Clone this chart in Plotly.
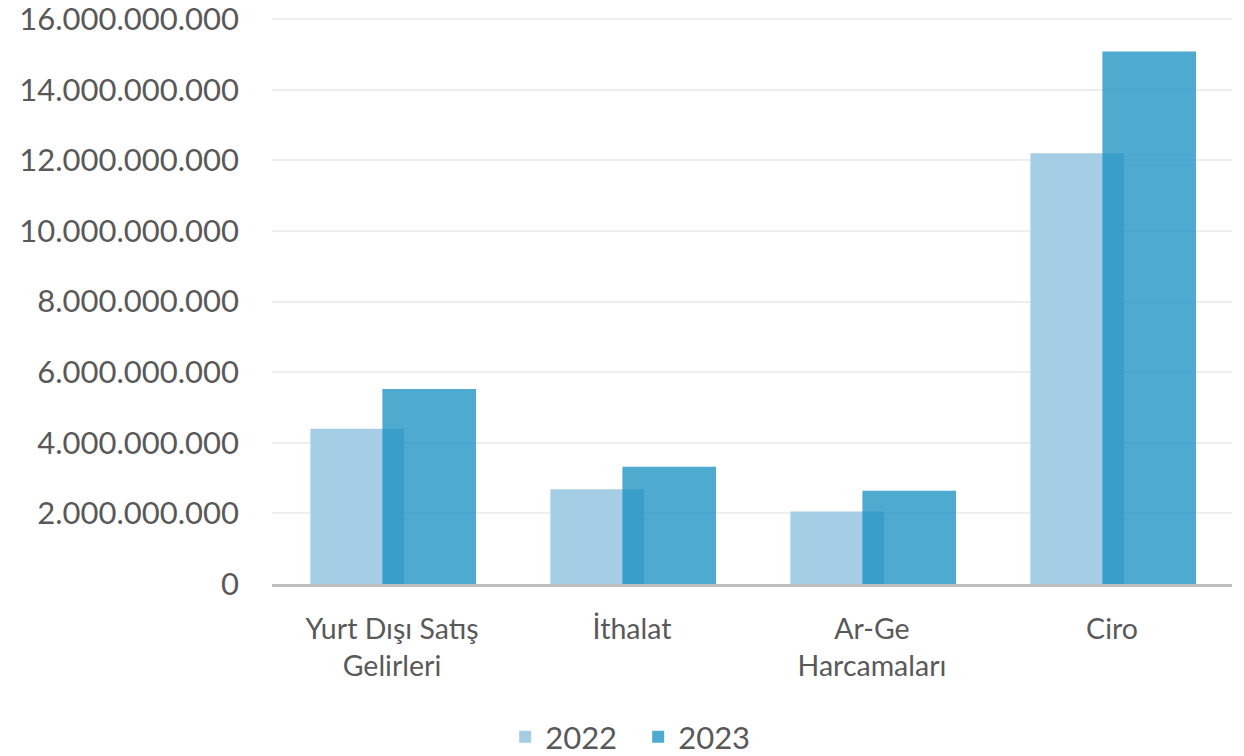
import plotly.graph_objects as go

categories = ["Yurt Dışı Satış<br>Gelirleri", "İthalat", "Ar-Ge<br>Harcamaları", "Ciro"]
values_2022 = [4.40e9, 2.68e9, 2.05e9, 12.2e9]
values_2023 = [5.52e9, 3.32e9, 2.64e9, 15.08e9]
tick_vals = [0, 2e9, 4e9, 6e9, 8e9, 10e9, 12e9, 14e9, 16e9]
tick_text = ["0", "2.000.000.000", "4.000.000.000", "6.000.000.000", "8.000.000.000",
             "10.000.000.000", "12.000.000.000", "14.000.000.000", "16.000.000.000"]

_TEXT = "#595959"
_FONT = "Lato"

fig = go.Figure()
fig.add_trace(go.Bar(
    x=categories, y=values_2022, name="2022",
    marker=dict(color="rgb(166,205,230)", line=dict(width=0)),
    width=0.39, offset=-0.34,
))
fig.add_trace(go.Bar(
    x=categories, y=values_2023, name="2023",
    marker=dict(color="rgba(20,142,191,0.75)", line=dict(width=0)),
    width=0.39, offset=-0.04,
))

fig.update_layout(
    barmode="overlay",
    width=1244, height=756,
    margin=dict(l=272, r=12, t=18, b=172, autoexpand=False),
    paper_bgcolor="white", plot_bgcolor="white",
    font=dict(family=_FONT, size=30, color=_TEXT),
    showlegend=True,
    legend=dict(
        orientation="h", xref="container", yref="container",
        x=0.513, xanchor="center", y=0.025, yanchor="middle",
        font=dict(size=31, color=_TEXT), itemwidth=30,
        entrywidth=88, tracegroupgap=0,
    ),
)
fig.update_yaxes(
    range=[0, 16.03e9], tickvals=tick_vals, ticktext=tick_text,
    showgrid=True, gridcolor="#eeeeee", gridwidth=2,
    zeroline=False, showline=False, ticklabelstandoff=32,
    ticklabeloverflow="allow",
    tickfont=dict(size=31, color=_TEXT), automargin=False,
)
fig.update_xaxes(
    showline=True, linecolor="#bfbfbf", linewidth=3,
    showgrid=False, ticks="", ticklabelstandoff=18,
    tickfont=dict(size=28.5, color=_TEXT), automargin=False,
)

# drop the default 8px body margin so the figure fills the window exactly
fig.write_html(
    "out.html",
    config={"displayModeBar": False},
    post_script="document.body.style.margin='0';",
)
